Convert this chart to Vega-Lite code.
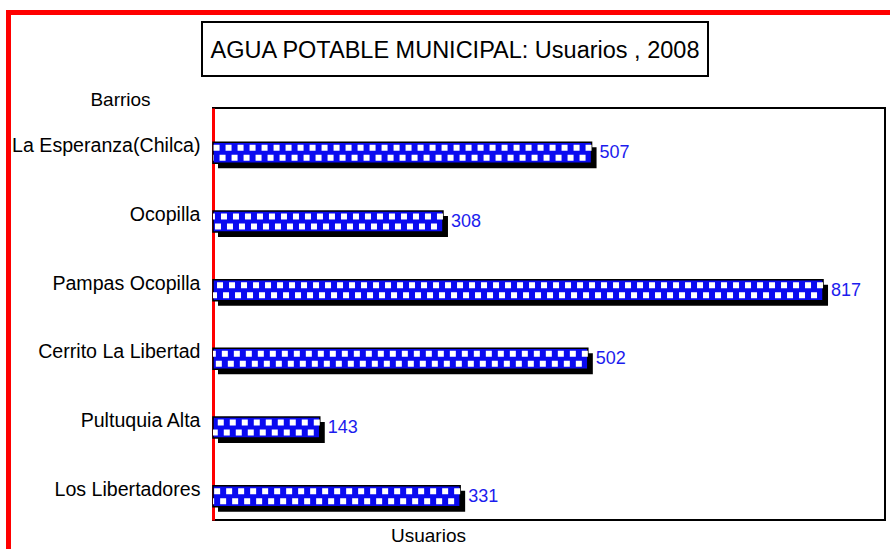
{
  "$schema": "https://vega.github.io/schema/vega-lite/v6.json",
  "padding": {"left": 6, "top": 10, "right": 0, "bottom": 0},
  "background": "white",
  "config": {"font": "Liberation Sans"},
  "bounds": "flush",
  "spacing": 0,
  "hconcat": [
    {
      "width": 1, "height": 545,
      "view": {"stroke": "#ff0000", "strokeWidth": 4, "fill": null},
      "data": {"values": []},
      "mark": {"type": "point", "opacity": 0}
    },
    {
      "bounds": "flush",
      "spacing": 9,
      "vconcat": [
        {
          "width": 884, "height": 1,
          "view": {"stroke": "#ff0000", "strokeWidth": 4, "fill": null},
          "data": {"values": []},
          "mark": {"type": "point", "opacity": 0}
        },
        {
          "bounds": "full",
          "spacing": 12,
          "vconcat": [
            {
              "bounds": "flush",
              "spacing": 0,
              "hconcat": [
                {
                  "width": 193, "height": 54,
                  "view": {"stroke": null, "fill": null},
                  "data": {"values": []},
                  "mark": {"type": "point", "opacity": 0}
                },
                {
                  "width": 506, "height": 54,
                  "view": {"stroke": "#000000", "strokeWidth": 2},
                  "data": {"values": [{"titulo": "AGUA POTABLE MUNICIPAL: Usuarios , 2008"}]},
                  "mark": {"type": "text", "fontSize": 23.5, "font": "Liberation Sans", "color": "#000000", "baseline": "middle", "align": "center", "dy": 2},
                  "encoding": {"text": {"field": "titulo", "type": "nominal"}}
                }
              ]
            },
            {
              "bounds": "flush",
              "spacing": 0,
              "hconcat": [
                {
                  "width": 204, "height": 412,
                  "view": {"stroke": null, "fill": null},
                  "data": {"values": []},
                  "mark": {"type": "point", "opacity": 0}
                },
                {
                  "width": 672, "height": 412,
                  "view": {"stroke": "#000000", "strokeWidth": 2},
                  "data": {"values": [
                    {"barrio": "La Esperanza(Chilca)", "usuarios": 507},
                    {"barrio": "Ocopilla", "usuarios": 308},
                    {"barrio": "Pampas Ocopilla", "usuarios": 817},
                    {"barrio": "Cerrito  La Libertad", "usuarios": 502},
                    {"barrio": "Pultuquia Alta", "usuarios": 143},
                    {"barrio": "Los Libertadores", "usuarios": 331}
                  ]},
                  "encoding": {
                    "y": {
                      "field": "barrio", "type": "nominal", "sort": null,
                      "axis": {
                        "title": "Barrios", "titleAngle": 0, "titleX": -93, "titleY": -3,
                        "titleAlign": "center", "titleBaseline": "alphabetic",
                        "titleFontSize": 19, "titleFontWeight": "normal", "titleColor": "#000000",
                        "labelFontSize": 19.6, "labelColor": "#000000", "labelPadding": 13,
                        "labelBaseline": "alphabetic", "labelOffset": 10, "labelLimit": 300,
                        "ticks": false, "domainColor": "#ff0000", "domainWidth": 3, "grid": false
                      }
                    }
                  },
                  "layer": [
                    {
                      "mark": {"type": "bar", "color": "#000000", "size": 21, "xOffset": 5, "x2Offset": 5, "yOffset": 15.5},
                      "encoding": {
                        "x": {
                          "field": "usuarios", "type": "quantitative",
                          "scale": {"domain": [0, 900], "nice": false},
                          "axis": {
                            "title": "Usuarios", "labels": false, "ticks": false, "domain": false, "grid": false,
                            "titleX": 215, "titleY": 21, "titleAlign": "center", "titleBaseline": "alphabetic",
                            "titleFontSize": 19, "titleFontWeight": "normal", "titleColor": "#000000"
                          }
                        }
                      }
                    },
                    {
                      "mark": {"type": "bar", "color": "#0a0af0", "size": 21, "yOffset": 10.5, "stroke": "#000000", "strokeWidth": 1.5},
                      "encoding": {"x": {"field": "usuarios", "type": "quantitative"}}
                    },
                    {
                      "mark": {"type": "rule", "color": "#ffffff", "strokeWidth": 6, "strokeDash": [6, 6], "yOffset": 5.5},
                      "encoding": {"x": {"field": "usuarios", "type": "quantitative"}, "x2": {"datum": 0}}
                    },
                    {
                      "mark": {"type": "rule", "color": "#ffffff", "strokeWidth": 6, "strokeDash": [6, 6], "strokeDashOffset": 6, "yOffset": 15.5},
                      "encoding": {"x": {"field": "usuarios", "type": "quantitative"}, "x2": {"datum": 0}}
                    },
                    {
                      "mark": {"type": "text", "align": "left", "baseline": "middle", "dx": 8, "yOffset": 11, "fontSize": 18, "color": "#1c1cee"},
                      "encoding": {
                        "x": {"field": "usuarios", "type": "quantitative"},
                        "text": {"field": "usuarios", "type": "quantitative"}
                      }
                    }
                  ]
                }
              ]
            }
          ]
        }
      ]
    }
  ]
}
